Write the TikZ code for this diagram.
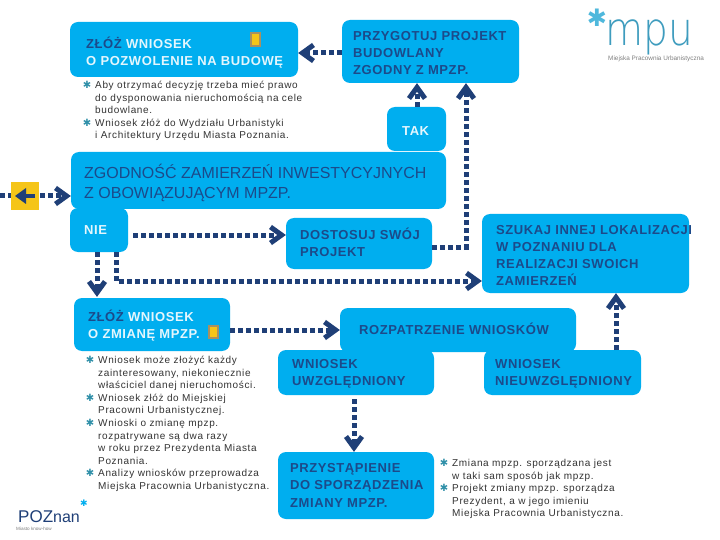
\documentclass[tikz,border=0pt]{standalone}
\usepackage{fontspec}
\setmainfont{Liberation Sans}
\newfontfamily\boxfont[LetterSpace=4.5]{Liberation Sans}
\newfontfamily\smallfont[LetterSpace=6.5]{Liberation Sans}
\newfontfamily\symfont{DejaVu Sans}
\newfontfamily\logofont[FakeStretch=0.85]{DejaVu Sans ExtraLight}
\definecolor{boxblue}{HTML}{00AEEF}
\definecolor{navy}{HTML}{1F3F77}
\definecolor{darktext}{HTML}{1C4A8A}
\definecolor{paletext}{HTML}{E4F6FD}
\definecolor{bul}{HTML}{2E8FA8}
\definecolor{txt}{HTML}{333333}
\definecolor{gold}{HTML}{F5C518}
\definecolor{goldedge}{HTML}{A89060}
\definecolor{logo}{HTML}{3E9CBE}
\definecolor{logostar}{HTML}{4FB8DC}
\tikzset{
  x=1pt,y=-1pt,
  bx/.style={fill=boxblue,rounded corners=8pt,draw=none},
  lbl/.style={inner sep=0pt,anchor=north west,align=left,font=\fontsize{13}{17.2}\boxfont\bfseries,text=darktext},
  lblw/.style={lbl,text=paletext},
  note/.style={inner sep=0pt,anchor=north west,align=left,font=\fontsize{10}{12.6}\smallfont,text=txt},
  bulletn/.style={inner sep=0pt,font=\fontsize{10}{10}\symfont,text=bul},
  dots/.style={draw=navy,line width=5pt,dash pattern=on 5pt off 3pt},
  chev/.style={draw=navy,line width=5pt,line join=miter,line cap=butt,fill=none},
}
% chevron arrowhead with its tip at #1, pointing along screen angle #2 (clockwise degrees)
\newcommand{\chevron}[2]{\draw[chev,shift={#1},rotate=-#2] (-15.5,-8) -- (-4.4,0) -- (-15.5,8);}
\begin{document}
\begin{tikzpicture}
\useasboundingbox (0,0) rectangle (720,540);
\fill[white] (0,0) rectangle (720,540);
% boxes
\path[bx] (70,22) rectangle (298,77);
\path[bx] (342,20) rectangle (519,83);
\path[bx] (387,107) rectangle (446,151);
\path[bx] (71,152) rectangle (446,209);
\path[bx] (70,208) rectangle (128,252);
\path[bx] (286,218) rectangle (432,269);
\path[bx] (482,214) rectangle (689,293);
\path[bx] (74,298) rectangle (230,351);
\path[bx] (340,308) rectangle (576,352);
\path[bx] (278,350) rectangle (434,395);
\path[bx] (484,350) rectangle (641,395);
\path[bx] (278,452) rectangle (434,519);
% connector anchors
\coordinate (aR) at (298,53);
\coordinate (bL) at (342,53);
\coordinate (b1) at (417,83);
\coordinate (b2) at (466,83);
\coordinate (takT) at (417,107);
\coordinate (elbowA) at (466,247);
\coordinate (dostR) at (432,247);
\coordinate (nieR) at (133,235);
\coordinate (dostL) at (286,235);
\coordinate (n1) at (97,252);
\coordinate (z2T) at (97,297);
\coordinate (n2) at (116,252);
\coordinate (elbowB) at (116,281);
\coordinate (szL) at (482,281);
\coordinate (z2R) at (230,330);
\coordinate (rozL) at (340,330);
\coordinate (nwT) at (616,350);
\coordinate (szB) at (616,293);
\coordinate (uwB) at (354,399);
\coordinate (prT) at (354,452);
\coordinate (exitL) at (0,196);
\coordinate (zgL) at (71,196);
% connectors
\draw[dots] (bL) -- ([xshift=8pt]aR);
\chevron{(aR)}{180}
\draw[dots] (takT) -- ([yshift=-8pt]b1);
\chevron{(b1)}{-90}
\draw[dots] (dostR) -- (elbowA) -- ([yshift=-8pt]b2);
\chevron{(b2)}{-90}
\draw[dots] (nieR) -- ([xshift=-8pt]dostL);
\chevron{(dostL)}{0}
\draw[dots] (n1) -- ([yshift=8pt]z2T);
\chevron{(z2T)}{90}
\draw[dots] (n2) -- (elbowB) -- ([xshift=-8pt]szL);
\chevron{(szL)}{0}
\draw[dots] (z2R) -- ([xshift=-8pt]rozL);
\chevron{(rozL)}{0}
\draw[dots] (nwT) -- ([yshift=-8pt]szB);
\chevron{(szB)}{-90}
\draw[dots] (uwB) -- ([yshift=8pt]prT);
\chevron{(prT)}{90}
\draw[dots] (exitL) -- ([xshift=-8pt]zgL);
\chevron{(zgL)}{0}
% gold back-arrow square
\fill[gold] (11,182) rectangle (39,210);
\draw[navy,line width=4.5pt] (35,196) -- (22,196);
\fill[navy] (15,196) -- (26,188) -- (26,204) -- cycle;
% document icons
\fill[goldedge] (250,32) rectangle (261,47); \fill[gold] (252,34) rectangle (259,45);
\fill[goldedge] (208,325) rectangle (219,339); \fill[gold] (210,327) rectangle (217,337);
% labels
\node[lbl] (t1) at (86,37) {\textcolor{darktext}{ZŁÓŻ} \textcolor{paletext}{WNIOSEK}\\\textcolor{paletext}{O POZWOLENIE NA BUDOWĘ}};
\node[lbl] (t2) at (353,31) {PRZYGOTUJ PROJEKT\\BUDOWLANY\\ZGODNY Z MPZP.};
\node[lblw] (t3) at (402,126) {TAK};
\node[lbl,font=\fontsize{16}{20}\rmfamily] (t4) at (84,164) {ZGODNOŚĆ ZAMIERZEŃ INWESTYCYJNYCH\\Z OBOWIĄZUJĄCYM MPZP.};
\node[lblw] (t5) at (84,225) {NIE};
\node[lbl] (t6) at (300,228) {DOSTOSUJ SWÓJ\\PROJEKT};
\node[lbl] (t7) at (496,225) {SZUKAJ INNEJ LOKALIZACJI\\W POZNANIU DLA\\REALIZACJI SWOICH\\ZAMIERZEŃ};
\node[lbl] (t8) at (88,310) {\textcolor{darktext}{ZŁÓŻ} \textcolor{paletext}{WNIOSEK}\\\textcolor{paletext}{O ZMIANĘ MPZP.}};
\node[lbl] (t9) at (359,323) {ROZPATRZENIE WNIOSKÓW};
\node[lbl] (t10) at (292,359) {WNIOSEK\\UWZGLĘDNIONY};
\node[lbl] (t11) at (495,359) {WNIOSEK\\NIEUWZGLĘDNIONY};
\node[lbl] (t12) at (290,463.5) {PRZYSTĄPIENIE\\DO SPORZĄDZENIA\\ZMIANY MPZP.};
% notes
\node[note] (n-a) at (95,81) {Aby otrzymać decyzję trzeba mieć prawo\\do dysponowania nieruchomością na cele\\budowlane.\\Wniosek złóż do Wydziału Urbanistyki\\i Architektury Urzędu Miasta Poznania.};
\node[bulletn] (b-a1) at (87,85) {✱}; \node[bulletn] (b-a2) at (87,123) {✱};
\node[note] (n-b) at (98,356) {Wniosek może złożyć każdy\\zainteresowany, niekoniecznie\\właściciel danej nieruchomości.\\Wniosek złóż do Miejskiej\\Pracowni Urbanistycznej.\\Wnioski o zmianę mpzp.\\rozpatrywane są dwa razy\\w roku przez Prezydenta Miasta\\Poznania.\\Analizy wniosków przeprowadza\\Miejska Pracownia Urbanistyczna.};
\node[bulletn] (b-b1) at (90,360) {✱}; \node[bulletn] (b-b2) at (90,398) {✱}; \node[bulletn] (b-b3) at (90,423) {✱}; \node[bulletn] (b-b4) at (90,473) {✱};
\node[note] (n-c) at (452,459) {Zmiana mpzp. sporządzana jest\\w taki sam sposób jak mpzp.\\Projekt zmiany mpzp. sporządza\\Prezydent, a w jego imieniu\\Miejska Pracownia Urbanistyczna.};
\node[bulletn] (b-c1) at (444,463) {✱}; \node[bulletn] (b-c2) at (444,488) {✱};
% logos
\node[inner sep=0pt,font=\fontsize{24}{24}\symfont,text=logostar] (l1) at (597,18) {✱};
\node[inner sep=0pt,anchor=base west,font=\fontsize{46}{46}\logofont,text=logo] (l2) at (605,46) {mpu};
\node[inner sep=0pt,anchor=base west,font=\fontsize{6.4}{7}\selectfont,text=gray] (l3) at (608,61) {Miejska Pracownia Urbanistyczna};
\node[inner sep=0pt,anchor=base west,font=\fontsize{17}{17}\selectfont,text=navy] (l4) at (18,522) {POZ\fontsize{16}{16}\selectfont nan};
\node[inner sep=0pt,font=\fontsize{9}{9}\symfont,text=boxblue] (l5) at (84,503) {✱};
\node[inner sep=0pt,anchor=base west,font=\fontsize{4.6}{5}\selectfont,text=gray] (l6) at (16,530) {Miasto know-how};
\end{tikzpicture}
\end{document}
